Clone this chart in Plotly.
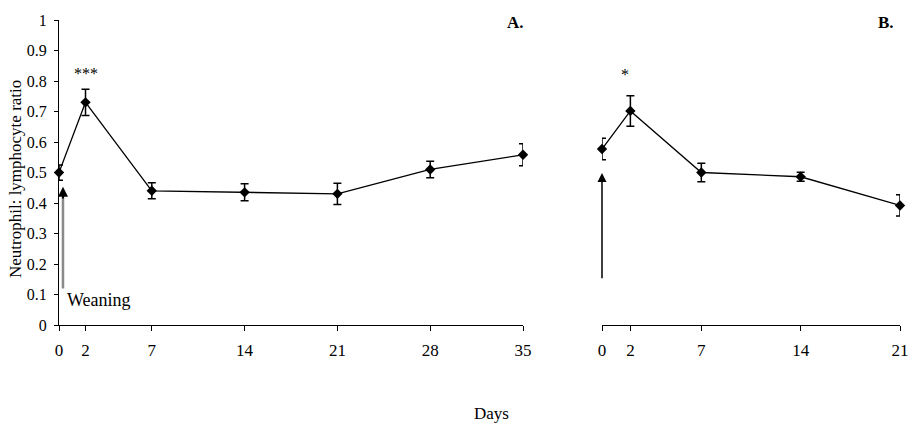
import plotly.graph_objects as go

# ---- data ----
days_a = [0, 2, 7, 14, 21, 28, 35]
ratio_a = [0.50, 0.73, 0.44, 0.435, 0.43, 0.51, 0.558]
err_a = [0.025, 0.043, 0.026, 0.028, 0.035, 0.027, 0.036]

days_b = [0, 2, 7, 14, 21]
ratio_b = [0.577, 0.702, 0.50, 0.486, 0.392]
err_b = [0.035, 0.05, 0.03, 0.015, 0.035]

ticks_a = [0, 2, 7, 14, 21, 28, 35]
ticks_b = [0, 2, 7, 14, 21]
y_ticks = [0, 0.1, 0.2, 0.3, 0.4, 0.5, 0.6, 0.7, 0.8, 0.9, 1]
y_ticktext = ["0", "0.1", "0.2", "0.3", "0.4", "0.5", "0.6", "0.7", "0.8", "0.9", "1"]

FONT = "'Liberation Serif', 'Times New Roman', serif"

fig = go.Figure()
common = dict(
    mode="lines+markers",
    line=dict(color="black", width=1.3),
    marker=dict(symbol="diamond", size=8, color="black"),
    cliponaxis=False,
    showlegend=False,
)
fig.add_trace(go.Scatter(
    x=days_a, y=ratio_a,
    error_y=dict(type="data", array=err_a, color="black", thickness=1.5, width=4),
    xaxis="x", yaxis="y", **common))
fig.add_trace(go.Scatter(
    x=days_b, y=ratio_b,
    error_y=dict(type="data", array=err_b, color="black", thickness=1.5, width=4),
    xaxis="x2", yaxis="y2", **common))

W, H = 910, 429
L, R, T, B = 59, 10, 20, 104
PX0 = L
PXR = W - R
pw = PXR - PX0
dom_a = [0, (523 - PX0) / pw]
dom_b = [(602 - PX0) / pw, 1]

def px(xpage):
    return (xpage - PX0) / pw

def py(ypage):
    return (325 - ypage) / 305

axis_font = dict(family=FONT, size=17, color="black")
fig.update_layout(
    width=W, height=H, autosize=False,
    margin=dict(l=L, r=R, t=T, b=B, autoexpand=False),
    paper_bgcolor="white", plot_bgcolor="white",
    font=dict(family=FONT, color="black"),
    xaxis=dict(domain=dom_a, range=[0, 35], tickvals=ticks_a, showline=True,
               linecolor="black", linewidth=1.3, ticks="outside", ticklen=5,
               tickcolor="black", showgrid=False, zeroline=False, automargin=False,
               ticklabelstandoff=4, tickfont=axis_font, anchor="y"),
    yaxis=dict(domain=[0, 1], range=[0, 1], tickvals=y_ticks, ticktext=y_ticktext,
               showline=True, linecolor="black", linewidth=1.3, ticks="outside",
               ticklen=4, tickcolor="black", showgrid=False, zeroline=False,
               automargin=False, ticklabelstandoff=4,
               tickfont=dict(family=FONT, size=16, color="black"), anchor="x"),
    xaxis2=dict(domain=dom_b, range=[0, 21], tickvals=ticks_b, showline=True,
                linecolor="black", linewidth=1.3, ticks="outside", ticklen=5,
                tickcolor="black", showgrid=False, zeroline=False, automargin=False,
                ticklabelstandoff=4, tickfont=axis_font, anchor="y2"),
    yaxis2=dict(domain=[0, 1], range=[0, 1], visible=False, anchor="x2"),
)

def text_ann(text, x, y, size, xref="paper", yref="paper", xanchor="center", **kw):
    return dict(text=text, xref=xref, yref=yref, x=x, y=y, xanchor=xanchor,
                yanchor="middle", showarrow=False,
                font=dict(family=FONT, size=size, color="black"), **kw)

ann = [
    text_ann("<b>A.</b>", px(515), py(23), 17),
    text_ann("<b>B.</b>", px(886), py(23), 17),
    text_ann("Days", px(492), py(413), 17),
    text_ann("Neutrophil: lymphocyte ratio", px(15), py(179), 17, textangle=-90),
    text_ann("***", 2, 0.823, 16, xref="x", yref="y"),
    text_ann("*", 1.6, 0.82, 16, xref="x2", yref="y2"),
    text_ann("Weaning", 0.45, 0.082, 18, xref="x", yref="y", xanchor="left"),
    text_ann("Housing", -0.5, 0.075, 18, xref="x2", yref="y2", xanchor="left"),
]
# weaning arrow: grey shaft, black head
ann.append(dict(text="", xref="x", yref="y", axref="x", ayref="y",
                x=0.3, y=0.42, ax=0.3, ay=0.115, showarrow=True, arrowhead=0,
                arrowwidth=2.5, arrowcolor="#8a8a8a"))
ann.append(dict(text="", xref="x", yref="y", axref="x", ayref="y",
                x=0.3, y=0.453, ax=0.3, ay=0.41, showarrow=True, arrowhead=2,
                arrowsize=1, arrowwidth=2, arrowcolor="black"))
# housing arrow
ann.append(dict(text="", xref="x2", yref="y2", axref="x2", ayref="y2",
                x=0, y=0.498, ax=0, ay=0.148, showarrow=True, arrowhead=2,
                arrowsize=1.2, arrowwidth=1.5, arrowcolor="black"))
fig.update_layout(annotations=ann)

fig.write_html(
    "out.html",
    config={"displayModeBar": False},
    post_script="document.body.style.margin='0';document.body.style.overflow='hidden';",
)
